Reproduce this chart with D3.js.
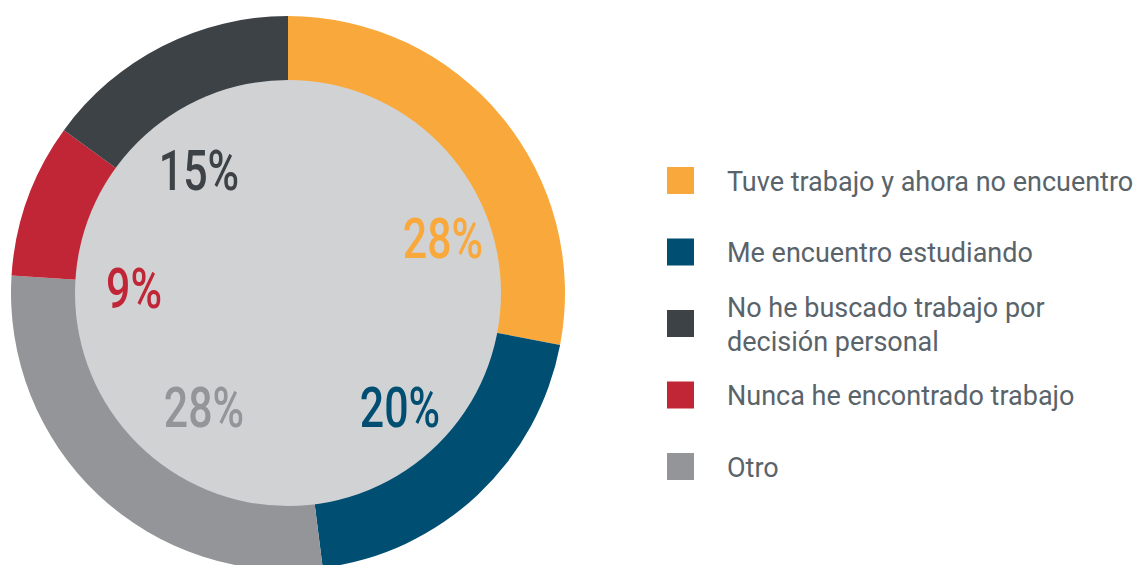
<!DOCTYPE html>
<html>
<head>
<meta charset="utf-8">
<script src="https://cdn.jsdelivr.net/npm/d3@7"></script>
<style>
  html, body { margin: 0; padding: 0; background: #fff; }
  svg { display: block; }
</style>
</head>
<body>
<div id="chart"></div>
<script>
// data
const categories = [
  "Tuve trabajo y ahora no encuentro",
  "Me encuentro estudiando",
  "No he buscado trabajo por decisión personal",
  "Nunca he encontrado trabajo",
  "Otro"
];
const values = [28, 20, 15, 9, 28];
// slice order around the ring, clockwise from 12 o'clock
const sliceOrder = [0, 1, 4, 3, 2];
const legendLines = [
  ["Tuve trabajo y ahora no encuentro"],
  ["Me encuentro estudiando"],
  ["No he buscado trabajo por", "decisión personal"],
  ["Nunca he encontrado trabajo"],
  ["Otro"]
];
const colors = ["#f9a93b", "#004f73", "#3d4246", "#c02635", "#949598"];

// layout
const W = 1137, H = 565;
const cx = 288, cy = 293;
const outerR = 277, innerR = 213;
// label offsets from the ring centre, per category
const labelOffsets = [[155, -35], [112, 134], [-89, -103], [-154, 15], [-84, 134]];

const svg = d3.select("#chart").append("svg")
  .attr("width", W)
  .attr("height", H);

const g = svg.append("g").attr("transform", `translate(${cx},${cy})`);

const pie = d3.pie()
  .sort(null)
  .value(d => values[d]);

const arc = d3.arc()
  .innerRadius(innerR - 1)
  .outerRadius(outerR);

g.selectAll("path.slice")
  .data(pie(sliceOrder))
  .enter()
  .append("path")
  .attr("class", "slice")
  .attr("d", arc)
  .attr("fill", d => colors[d.data]);

// inner disc
g.append("circle")
  .attr("r", innerR)
  .attr("fill", "#d1d2d4");

// percentage labels (condensed look)
g.selectAll("text.pct")
  .data(d3.range(categories.length))
  .enter()
  .append("text")
  .attr("class", "pct")
  .attr("transform", i => `translate(${labelOffsets[i][0]},${labelOffsets[i][1]}) scale(0.78,1)`)
  .attr("text-anchor", "middle")
  .style("font-family", "Roboto, sans-serif")
  .style("font-size", "55px")
  .style("font-weight", 500)
  .attr("fill", i => colors[i])
  .text(i => values[i] + "%");

// legend
const legend = svg.append("g").attr("transform", "translate(667,0)");
const legendY = d3.scalePoint()
  .domain(d3.range(categories.length))
  .range([180.5, 466.5]);

const item = legend.selectAll("g.item")
  .data(d3.range(categories.length))
  .enter()
  .append("g")
  .attr("class", "item")
  .attr("transform", i => `translate(0,${legendY(i)})`);

item.append("rect")
  .attr("x", 0)
  .attr("y", -13.5)
  .attr("width", 27)
  .attr("height", 27)
  .attr("fill", i => colors[i]);

item.append("text")
  .attr("x", 60)
  .attr("y", i => legendLines[i].length > 1 ? -7 : 10)
  .style("font-family", "Roboto, 'Open Sans', sans-serif")
  .style("font-size", "27px")
  .attr("fill", "#59636a")
  .selectAll("tspan")
  .data(i => legendLines[i])
  .enter()
  .append("tspan")
  .attr("x", 60)
  .attr("dy", (d, k) => k === 0 ? 0 : 34)
  .text(d => d);
</script>
</body>
</html>
